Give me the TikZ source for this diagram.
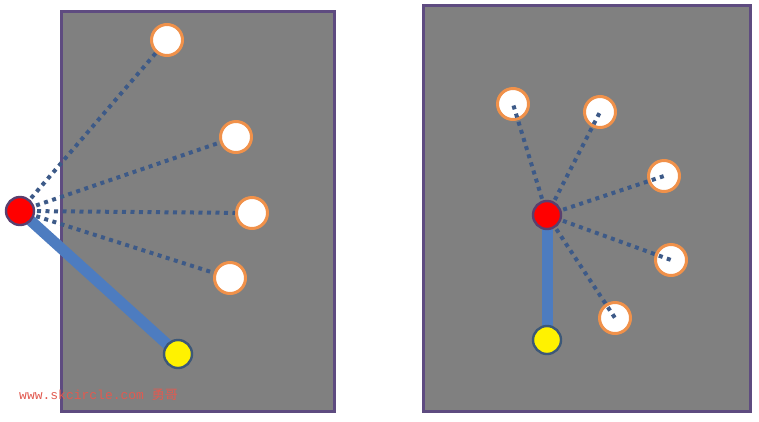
\documentclass[tikz,border=0pt]{standalone}
\usepackage{fontspec}
\setmonofont{Liberation Mono}
\newfontfamily\cjk{Noto Sans CJK SC}
\definecolor{frame}{HTML}{5E4B80}
\definecolor{panel}{HTML}{808080}
\definecolor{dotc}{HTML}{3D5A88}
\definecolor{barc}{HTML}{4D7CC0}
\definecolor{ringc}{HTML}{F0914A}
\definecolor{redb}{HTML}{5A3F6E}
\definecolor{yelb}{HTML}{3C5878}
\definecolor{wm}{HTML}{E25A50}
\tikzset{
  panelbox/.style={draw=frame,fill=panel,line width=3pt},
  target/.style={circle,draw=ringc,fill=white,line width=3pt,minimum size=31pt,inner sep=0pt},
  source/.style={circle,draw=redb,fill=red,line width=2.4pt,minimum size=28pt,inner sep=0pt},
  anchorpt/.style={circle,draw=yelb,fill=yellow,line width=2.4pt,minimum size=28pt,inner sep=0pt},
  ray/.style={dotc,line width=4pt,dash pattern=on 4pt off 4.5pt},
  bar/.style={barc,line width=11pt}
}
\begin{document}
\begin{tikzpicture}[x=1pt,y=-1pt]
\useasboundingbox (0,0) rectangle (759,421);
\fill[white] (0,0) rectangle (759,421);
% panels
\path[panelbox] (61,11) rectangle (334,411);
\path[panelbox] (423,5) rectangle (750,411);
% left panel
\node[target] (l1) at (167,40) {};
\node[target] (l2) at (236,137) {};
\node[target] (l3) at (252,213) {};
\node[target] (l4) at (230,278) {};
\coordinate (lr) at (20,211);
\coordinate (ly) at (178,354);
\draw[bar] (lr) -- (ly);
\foreach \t in {l1,l2,l3,l4} \draw[ray] (lr) -- (\t);
\node[source] (lred) at (lr) {};
\node[anchorpt] (lyel) at (ly) {};
% right panel
\node[target] (r1) at (513,104) {};
\node[target] (r2) at (600,112) {};
\node[target] (r3) at (664,176) {};
\node[target] (r4) at (671,260) {};
\node[target] (r5) at (615,318) {};
\coordinate (rr) at (547,215);
\coordinate (ry) at (547,340);
\draw[bar] (rr) -- (ry);
\foreach \t in {r1,r2,r3,r4,r5} \draw[ray] (rr) -- (\t.center);
\node[source] (rred) at (rr) {};
\node[anchorpt] (ryel) at (ry) {};
% watermark
\node[anchor=west,text=wm,inner sep=0pt] (wmark) at (19,395) {\ttfamily\fontsize{13pt}{15pt}\selectfont www.skcircle.com \cjk 勇哥};
\end{tikzpicture}
\end{document}
